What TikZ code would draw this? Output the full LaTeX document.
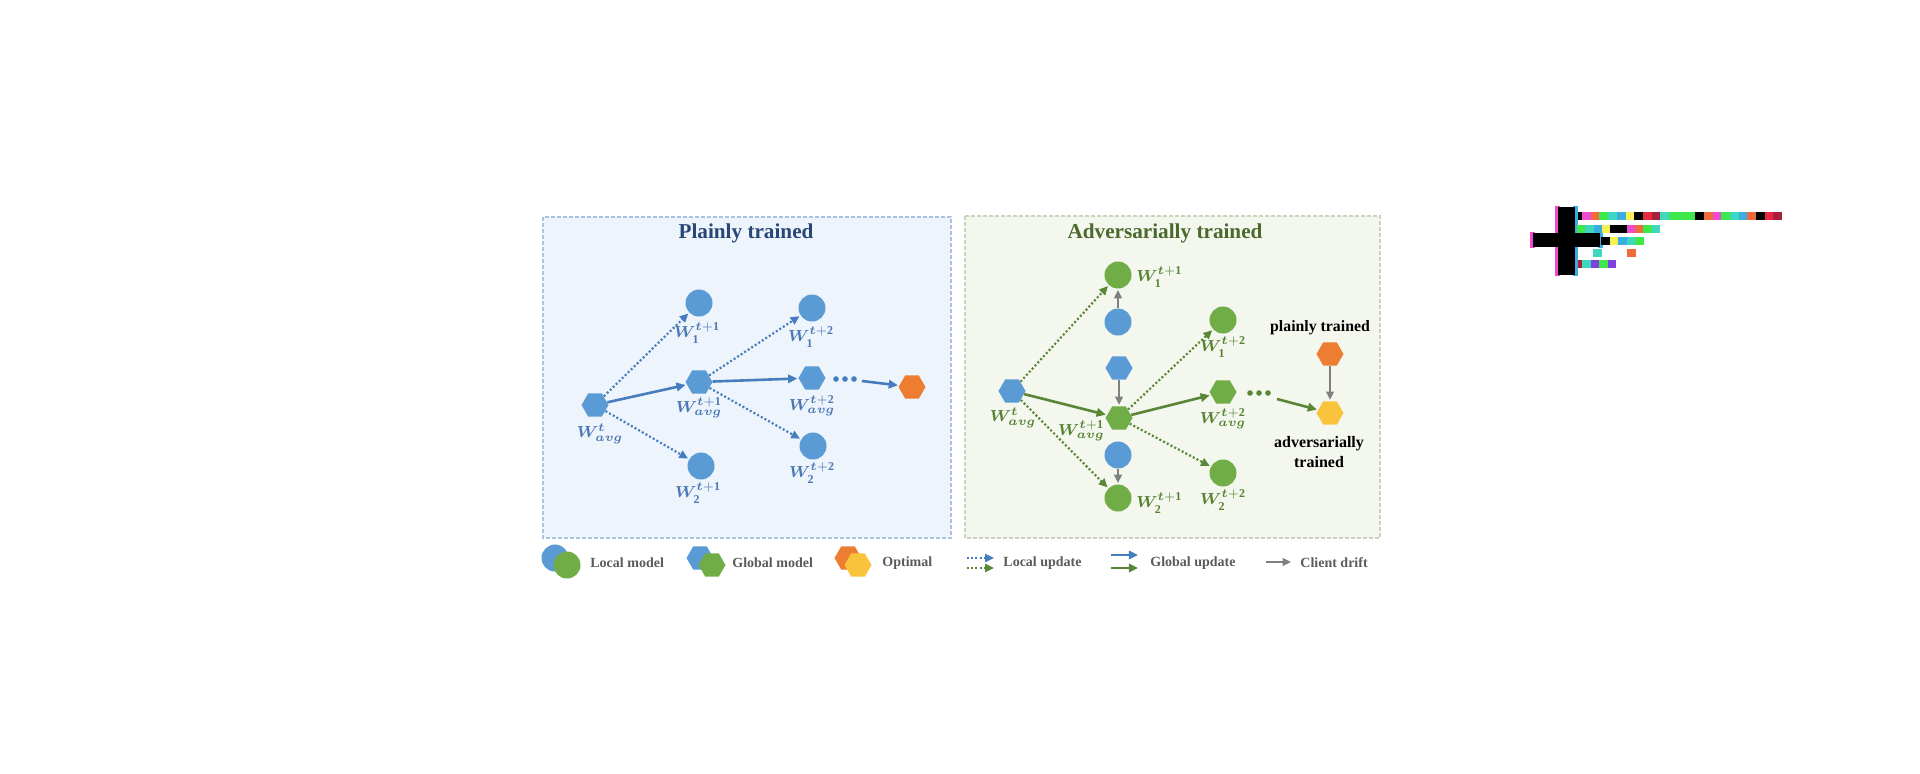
\documentclass[tikz,border=0pt]{standalone}
\usepackage{fontspec}
\setmainfont{Liberation Serif}
\usepackage{bm}
\usetikzlibrary{arrows.meta,shapes.geometric}
\definecolor{nblue}{RGB}{91,155,213}
\definecolor{ngreen}{RGB}{112,173,71}
\definecolor{norange}{RGB}{237,125,49}
\definecolor{nyellow}{RGB}{250,195,60}
\definecolor{ngray}{RGB}{128,128,128}
\definecolor{ablue}{RGB}{70,125,190}
\definecolor{agreen}{RGB}{90,135,55}
\definecolor{lblue}{RGB}{75,120,180}
\definecolor{lgreen}{RGB}{85,130,50}
\definecolor{tblue}{RGB}{40,70,120}
\definecolor{tgreen}{RGB}{75,105,45}
\definecolor{pfillL}{RGB}{238,244,251}
\definecolor{pfillR}{RGB}{243,247,238}
\definecolor{pdrawL}{RGB}{170,195,225}
\definecolor{pdrawR}{RGB}{200,212,185}
\definecolor{legtext}{RGB}{90,90,90}
\definecolor{gmag}{RGB}{238,75,208}
\definecolor{gora}{RGB}{240,106,60}
\definecolor{ggreen}{RGB}{62,232,74}
\definecolor{gteal}{RGB}{62,216,192}
\definecolor{gcyan}{RGB}{58,174,224}
\definecolor{gyel}{RGB}{248,240,80}
\definecolor{gred}{RGB}{232,40,60}
\definecolor{gdred}{RGB}{168,32,60}
\definecolor{gpur}{RGB}{128,64,224}
\newcommand{\wl}[2]{$\bm{W}^{#1}_{#2}$}
\newcommand{\ta}{\bm{t}}
\newcommand{\tb}{\bm{t}\mathbf{+1}}
\newcommand{\tc}{\bm{t}\mathbf{+2}}
\newcommand{\sav}{\bm{avg}}
\begin{document}
\begin{tikzpicture}[x=0.5pt,y=-0.5pt,
  loc/.style={circle,fill=#1,inner sep=0pt,minimum size=13.5pt},
  glob/.style={regular polygon,regular polygon sides=6,fill=#1,inner sep=0pt,minimum size=13.5pt},
  dotn/.style={circle,fill=#1,inner sep=0pt,minimum size=2.8pt},
  lu/.style={draw=#1,line width=1.1pt,dash pattern=on 1pt off 1.1pt,shorten >=0.5pt,-{Triangle[length=4.4pt,width=4pt]}},
  gu/.style={draw=#1,line width=1.3pt,shorten >=0.5pt,-{Triangle[length=4.6pt,width=4.2pt]}},
  cd/.style={draw=ngray,line width=1.2pt,shorten >=0.5pt,-{Triangle[length=4.2pt,width=3.8pt]}},
  lab/.style={text=#1,inner sep=0pt,font=\fontsize{8}{9}\selectfont},
  ttl/.style={text=#1,inner sep=0pt,font=\fontsize{10.6}{12}\selectfont\bfseries},
  legt/.style={text=legtext,inner sep=0pt,anchor=west,font=\fontsize{7}{8}\selectfont\bfseries},
  panel/.style={fill=#1,line width=0.75pt,dash pattern=on 2pt off 1pt}]
\useasboundingbox (0,0) rectangle (1920,773);
\fill[white] (0,0) rectangle (1920,773);
% panels
\filldraw[panel=pfillL,draw=pdrawL] (543,217) rectangle (951,538);
\filldraw[panel=pfillR,draw=pdrawR] (965,216) rectangle (1380,538);
\node[ttl=tblue] (t1) at (746,233) {Plainly trained};
\node[ttl=tgreen] (t2) at (1165,233) {Adversarially trained};
% left panel nodes
\node[glob=nblue] (a0) at (595,405) {};
\node[loc=nblue] (a11) at (699,303) {};
\node[glob=nblue] (a1) at (699,382) {};
\node[loc=nblue] (a12) at (701,466) {};
\node[loc=nblue] (a21) at (812,308) {};
\node[glob=nblue] (a2) at (812,378) {};
\node[loc=nblue] (a22) at (813,446) {};
\node[glob=norange] (aopt) at (912,387) {};
\node[dotn=ablue] (ad1) at (836,379) {};
\node[dotn=ablue] (ad2) at (845,379) {};
\node[dotn=ablue] (ad3) at (854,379) {};
\coordinate (as) at (862,381);
\draw[lu=ablue] (a0) -- (a11);
\draw[lu=ablue] (a0) -- (a12);
\draw[gu=ablue] (a0) -- (a1);
\draw[lu=ablue] (a1) -- (a21);
\draw[lu=ablue] (a1) -- (a22);
\draw[gu=ablue] (a1) -- (a2);
\draw[gu=ablue] (as) -- (aopt);
\node[lab=lblue] (la0) at (600,434) {\wl{\ta}{\sav}};
\node[lab=lblue] (la11) at (697,333) {\wl{\tb}{\mathbf{1}}};
\node[lab=lblue] (la1) at (699,408) {\wl{\tb}{\sav}};
\node[lab=lblue] (la12) at (698,493) {\wl{\tb}{\mathbf{2}}};
\node[lab=lblue] (la21) at (811,337) {\wl{\tc}{\mathbf{1}}};
\node[lab=lblue] (la2) at (812,406) {\wl{\tc}{\sav}};
\node[lab=lblue] (la22) at (812,473) {\wl{\tc}{\mathbf{2}}};
% right panel nodes
\node[glob=nblue] (b0) at (1012,391) {};
\node[loc=ngreen] (b11) at (1118,275) {};
\node[loc=nblue] (c11) at (1118,322) {};
\node[glob=nblue] (c1) at (1119,368) {};
\node[glob=ngreen] (b1) at (1119,418) {};
\node[loc=nblue] (c12) at (1118,455) {};
\node[loc=ngreen] (b12) at (1118,498) {};
\node[loc=ngreen] (b21) at (1223,320) {};
\node[glob=ngreen] (b2) at (1223,392) {};
\node[loc=ngreen] (b22) at (1223,473) {};
\node[dotn=agreen] (bd1) at (1250,393) {};
\node[dotn=agreen] (bd2) at (1259,393) {};
\node[dotn=agreen] (bd3) at (1268,393) {};
\coordinate (bs) at (1277,399);
\node[glob=norange] (bopt) at (1330,354) {};
\node[glob=nyellow] (badv) at (1330,413) {};
\draw[lu=agreen] (b0) -- (b11);
\draw[lu=agreen] (b0) -- (b12);
\draw[gu=agreen] (b0) -- (b1);
\draw[cd] (c11) -- (b11);
\draw[cd] (c1) -- (b1);
\draw[cd] (c12) -- (b12);
\draw[lu=agreen] (b1) -- (b21);
\draw[lu=agreen] (b1) -- (b22);
\draw[gu=agreen] (b1) -- (b2);
\draw[gu=agreen] (bs) -- (badv);
\draw[cd] (bopt) -- (badv);
\node[lab=lgreen] (lb0) at (1013,418) {\wl{\ta}{\sav}};
\node[lab=lgreen,anchor=west] (lb11) at (1136,277) {\wl{\tb}{\mathbf{1}}};
\node[lab=lgreen,anchor=east] (lb1) at (1105,431) {\wl{\tb}{\sav}};
\node[lab=lgreen,anchor=west] (lb12) at (1136,503) {\wl{\tb}{\mathbf{2}}};
\node[lab=lgreen] (lb21) at (1223,347) {\wl{\tc}{\mathbf{1}}};
\node[lab=lgreen] (lb2) at (1223,419) {\wl{\tc}{\sav}};
\node[lab=lgreen] (lb22) at (1223,500) {\wl{\tc}{\mathbf{2}}};
\node[inner sep=0pt,font=\fontsize{7.9}{9}\selectfont\bfseries] (tp) at (1320,328) {plainly trained};
\node[inner sep=0pt,align=center,font=\fontsize{8}{10}\selectfont\bfseries] (tad) at (1319,452) {adversarially\\trained};
% legend
\node[loc=nblue] (g1a) at (555,558) {};
\node[loc=ngreen] (g1b) at (567,565) {};
\node[legt] (g1t) at (590,563) {Local model};
\node[glob=nblue] (g2a) at (700,558) {};
\node[glob=ngreen] (g2b) at (712,565) {};
\node[legt] (g2t) at (732,563) {Global model};
\node[glob=norange] (g3a) at (848,558) {};
\node[glob=nyellow] (g3b) at (858,565) {};
\node[legt] (g3t) at (882,563) {Optimal};
\coordinate (k1s) at (967,558); \coordinate (k1e) at (994,558);
\coordinate (k2s) at (967,568); \coordinate (k2e) at (994,568);
\draw[lu=ablue,shorten >=0pt] (k1s) -- (k1e);
\draw[lu=agreen,shorten >=0pt] (k2s) -- (k2e);
\node[legt] (g4t) at (1003,563) {Local update};
\coordinate (k3s) at (1111,555); \coordinate (k3e) at (1138,555);
\coordinate (k4s) at (1111,568); \coordinate (k4e) at (1138,568);
\draw[gu=ablue,shorten >=0pt] (k3s) -- (k3e);
\draw[gu=agreen,shorten >=0pt] (k4s) -- (k4e);
\node[legt] (g5t) at (1150,563) {Global update};
\coordinate (k5s) at (1266,562); \coordinate (k5e) at (1291,562);
\draw[cd,shorten >=0pt] (k5s) -- (k5e);
\node[legt] (g6t) at (1300,563) {Client drift};
% glitch mark
\fill[gmag] (1555,206) rectangle (1560,276);
\fill[gcyan] (1573,206) rectangle (1578,276);
\fill[gmag] (1530,232) rectangle (1535,248);
\fill[gcyan] (1598,232) rectangle (1603,248);
\fill[black] (1558,207) rectangle (1575,275);
\fill[black] (1533,233) rectangle (1600,247);
\fill[black] (1578,212) rectangle (1582,220);
\foreach \c [count=\i from 0] in {gmag,gora,ggreen,gteal,gcyan,gyel,black,gred,gdred,gteal,ggreen,ggreen,ggreen,black,gora,gmag,ggreen,gteal,gcyan,gora,black,gred,gdred}
  \fill[\c] (1582+\i*8.7,212) rectangle ++(8.7,8);
\foreach \c [count=\i from 0] in {ggreen,gteal,gcyan,gyel,black,black,gmag,gora,ggreen,gteal}
  \fill[\c] (1577+\i*8.3,225) rectangle ++(8.3,8);
\foreach \c [count=\i from 0] in {black,gyel,gcyan,gteal,ggreen}
  \fill[\c] (1601+\i*8.5,237) rectangle ++(8.5,8);
\fill[gteal] (1593,249) rectangle ++(8.5,8);
\fill[gora] (1627,249) rectangle ++(8.5,8);
\fill[gdred] (1578,260) rectangle (1582,268);
\foreach \c [count=\i from 0] in {gteal,gpur,ggreen,gpur}
  \fill[\c] (1582+\i*8.6,260) rectangle ++(8.6,8);
\end{tikzpicture}
\end{document}
